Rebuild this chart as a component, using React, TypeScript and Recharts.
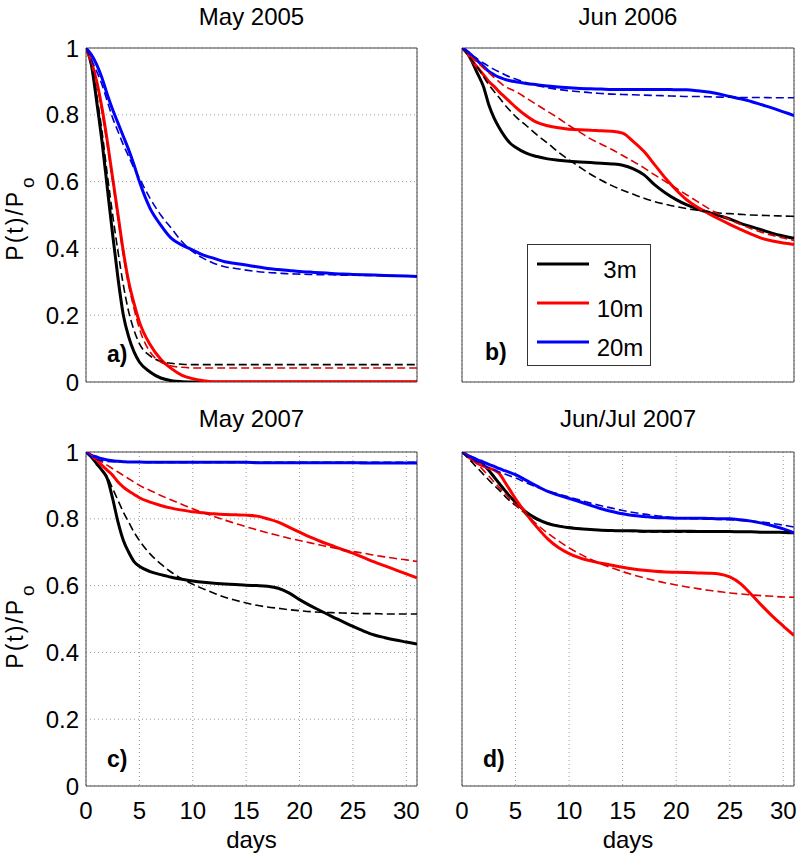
import React from 'react'
import { LineChart, Line, XAxis, YAxis, CartesianGrid, ReferenceArea, Legend } from 'recharts'

const FONT = '"Liberation Sans", Arial, Helvetica, sans-serif'

// sampling days (half-day steps for the fast early decay)
const days = [0, 0.5, 1, 1.5, 2, 2.5, 3, 3.5, 4, 4.5, 5, 6, 7, 8, 9, 10, 11, 12, 13, 14, 15, 16, 17, 18, 19, 20, 21, 22, 23, 24, 25, 26, 27, 28, 29, 30, 31]

const depths = ['3m', '10m', '20m']
const obsColors = ['#000000', '#ff0000', '#0000ff']
const fitColors = ['#000000', '#dd0000', '#0000cc']
const xTicks = [0, 5, 10, 15, 20, 25, 30]
const yTicks = [0, 0.2, 0.4, 0.6, 0.8, 1]

// a) May 2005
const may05_3m = [1, 0.95, 0.84, 0.72, 0.58, 0.44, 0.31, 0.2, 0.135, 0.09, 0.06, 0.03, 0.012, 0.004, 0.001, 0, 0, 0, 0, 0, 0, 0, 0, 0, 0, 0, 0, 0, 0, 0, 0, 0, 0, 0, 0, 0, 0]
const may05_10m = [1, 0.96, 0.9, 0.82, 0.72, 0.61, 0.5, 0.39, 0.3, 0.235, 0.18, 0.112, 0.068, 0.04, 0.02, 0.01, 0.004, 0, 0, 0, 0, 0, 0, 0, 0, 0, 0, 0, 0, 0, 0, 0, 0, 0, 0, 0, 0]
const may05_20m = [1, 0.98, 0.95, 0.91, 0.86, 0.815, 0.775, 0.735, 0.695, 0.65, 0.6, 0.52, 0.47, 0.43, 0.41, 0.395, 0.38, 0.37, 0.36, 0.355, 0.35, 0.345, 0.34, 0.337, 0.334, 0.331, 0.329, 0.327, 0.325, 0.323, 0.322, 0.321, 0.32, 0.319, 0.318, 0.317, 0.316]
const may05_3mFit = [1, 0.955, 0.86, 0.75, 0.62, 0.5, 0.39, 0.29, 0.21, 0.155, 0.115, 0.078, 0.062, 0.056, 0.053, 0.052, 0.052, 0.052, 0.052, 0.052, 0.052, 0.052, 0.052, 0.052, 0.052, 0.052, 0.052, 0.052, 0.052, 0.052, 0.052, 0.052, 0.052, 0.052, 0.052, 0.052, 0.052]
const may05_10mFit = [1, 0.96, 0.9, 0.81, 0.71, 0.6, 0.49, 0.38, 0.29, 0.22, 0.16, 0.09, 0.06, 0.048, 0.044, 0.042, 0.042, 0.042, 0.042, 0.042, 0.042, 0.042, 0.042, 0.042, 0.042, 0.042, 0.042, 0.042, 0.042, 0.042, 0.042, 0.042, 0.042, 0.042, 0.042, 0.042, 0.042]
const may05_20mFit = [1, 0.965, 0.93, 0.89, 0.84, 0.79, 0.75, 0.71, 0.675, 0.64, 0.61, 0.55, 0.5, 0.46, 0.42, 0.39, 0.37, 0.355, 0.345, 0.34, 0.335, 0.331, 0.328, 0.326, 0.324, 0.323, 0.322, 0.321, 0.321, 0.32, 0.32, 0.319, 0.319, 0.318, 0.318, 0.317, 0.317]

// b) Jun 2006
const jun06_3m = [1, 0.985, 0.955, 0.92, 0.885, 0.83, 0.79, 0.76, 0.735, 0.715, 0.703, 0.685, 0.675, 0.668, 0.664, 0.661, 0.659, 0.657, 0.655, 0.653, 0.649, 0.638, 0.62, 0.59, 0.566, 0.546, 0.53, 0.518, 0.508, 0.498, 0.488, 0.475, 0.465, 0.455, 0.445, 0.437, 0.43]
const jun06_10m = [1, 0.985, 0.96, 0.94, 0.92, 0.9, 0.885, 0.868, 0.853, 0.838, 0.823, 0.797, 0.777, 0.767, 0.761, 0.757, 0.755, 0.754, 0.752, 0.751, 0.745, 0.72, 0.69, 0.65, 0.61, 0.575, 0.545, 0.523, 0.505, 0.488, 0.472, 0.457, 0.443, 0.43, 0.422, 0.416, 0.412]
const jun06_20m = [1, 0.99, 0.975, 0.96, 0.945, 0.93, 0.92, 0.912, 0.906, 0.902, 0.899, 0.894, 0.89, 0.886, 0.883, 0.881, 0.879, 0.878, 0.877, 0.876, 0.876, 0.876, 0.876, 0.876, 0.876, 0.875, 0.875, 0.872, 0.868, 0.862, 0.855, 0.848, 0.84, 0.83, 0.82, 0.809, 0.798]
const jun06_3mFit = [1, 0.98, 0.96, 0.94, 0.915, 0.89, 0.87, 0.85, 0.83, 0.812, 0.795, 0.768, 0.74, 0.715, 0.688, 0.665, 0.643, 0.622, 0.604, 0.588, 0.574, 0.562, 0.55, 0.54, 0.532, 0.525, 0.519, 0.514, 0.51, 0.506, 0.504, 0.502, 0.5, 0.499, 0.498, 0.497, 0.496]
const jun06_10mFit = [1, 0.985, 0.97, 0.955, 0.94, 0.926, 0.912, 0.898, 0.885, 0.877, 0.87, 0.85, 0.83, 0.81, 0.79, 0.768, 0.748, 0.728, 0.712, 0.696, 0.678, 0.66, 0.641, 0.62, 0.6, 0.58, 0.56, 0.54, 0.52, 0.502, 0.486, 0.472, 0.459, 0.448, 0.439, 0.431, 0.424]
const jun06_20mFit = [1, 0.988, 0.977, 0.966, 0.955, 0.945, 0.936, 0.928, 0.92, 0.913, 0.907, 0.896, 0.888, 0.881, 0.876, 0.872, 0.869, 0.866, 0.864, 0.862, 0.861, 0.86, 0.859, 0.858, 0.857, 0.856, 0.855, 0.855, 0.854, 0.853, 0.853, 0.852, 0.852, 0.852, 0.851, 0.851, 0.851]

// c) May 2007
const may07_3m = [1, 0.985, 0.965, 0.945, 0.92, 0.86, 0.79, 0.735, 0.7, 0.672, 0.658, 0.642, 0.633, 0.625, 0.619, 0.614, 0.61, 0.607, 0.605, 0.603, 0.601, 0.6, 0.598, 0.592, 0.578, 0.558, 0.54, 0.524, 0.508, 0.493, 0.478, 0.464, 0.452, 0.444, 0.437, 0.431, 0.425]
const may07_10m = [1, 0.99, 0.975, 0.96, 0.945, 0.93, 0.91, 0.895, 0.883, 0.873, 0.863, 0.85, 0.84, 0.832, 0.826, 0.821, 0.818, 0.815, 0.813, 0.812, 0.811, 0.808, 0.8, 0.79, 0.775, 0.76, 0.745, 0.732, 0.72, 0.708, 0.697, 0.684, 0.671, 0.659, 0.647, 0.635, 0.623]
const may07_20m = [1, 0.99, 0.985, 0.98, 0.976, 0.974, 0.972, 0.971, 0.97, 0.97, 0.97, 0.969, 0.969, 0.969, 0.969, 0.969, 0.969, 0.969, 0.969, 0.969, 0.969, 0.968, 0.968, 0.968, 0.968, 0.968, 0.968, 0.968, 0.968, 0.968, 0.968, 0.967, 0.967, 0.967, 0.967, 0.967, 0.967]
const may07_3mFit = [1, 0.985, 0.965, 0.945, 0.925, 0.89, 0.855, 0.82, 0.79, 0.76, 0.735, 0.695, 0.665, 0.64, 0.62, 0.604, 0.59, 0.577, 0.565, 0.556, 0.548, 0.541, 0.536, 0.532, 0.528, 0.525, 0.522, 0.52, 0.519, 0.518, 0.517, 0.516, 0.516, 0.515, 0.515, 0.515, 0.515]
const may07_10mFit = [1, 0.99, 0.98, 0.97, 0.96, 0.95, 0.94, 0.93, 0.92, 0.91, 0.9, 0.885, 0.87, 0.856, 0.843, 0.83, 0.818, 0.807, 0.796, 0.786, 0.776, 0.767, 0.758, 0.75, 0.742, 0.735, 0.728, 0.721, 0.714, 0.708, 0.702, 0.697, 0.691, 0.686, 0.681, 0.677, 0.672]
const may07_20mFit = [1, 0.985, 0.978, 0.974, 0.972, 0.971, 0.97, 0.97, 0.97, 0.97, 0.97, 0.969, 0.969, 0.969, 0.969, 0.969, 0.969, 0.969, 0.969, 0.969, 0.969, 0.969, 0.969, 0.969, 0.969, 0.969, 0.969, 0.969, 0.969, 0.969, 0.969, 0.969, 0.969, 0.969, 0.969, 0.969, 0.969]

// d) Jun/Jul 2007
const jul07_3m = [1, 0.99, 0.982, 0.973, 0.962, 0.945, 0.925, 0.905, 0.885, 0.866, 0.85, 0.82, 0.8, 0.786, 0.778, 0.773, 0.77, 0.768, 0.766, 0.765, 0.764, 0.764, 0.763, 0.763, 0.763, 0.763, 0.763, 0.762, 0.762, 0.762, 0.762, 0.761, 0.761, 0.76, 0.76, 0.759, 0.758]
const jul07_10m = [1, 0.988, 0.975, 0.965, 0.958, 0.952, 0.946, 0.935, 0.91, 0.885, 0.86, 0.815, 0.775, 0.74, 0.714, 0.696, 0.683, 0.674, 0.667, 0.661, 0.655, 0.65, 0.646, 0.643, 0.641, 0.64, 0.639, 0.638, 0.637, 0.635, 0.626, 0.606, 0.574, 0.54, 0.508, 0.479, 0.451]
const jul07_20m = [1, 0.99, 0.983, 0.976, 0.97, 0.963, 0.957, 0.95, 0.944, 0.938, 0.932, 0.915, 0.898, 0.882, 0.871, 0.861, 0.851, 0.84, 0.83, 0.822, 0.815, 0.81, 0.807, 0.804, 0.803, 0.802, 0.802, 0.802, 0.801, 0.8, 0.8, 0.797, 0.793, 0.787, 0.779, 0.77, 0.758]
const jul07_3mFit = [1, 0.984, 0.967, 0.95, 0.933, 0.916, 0.9, 0.885, 0.868, 0.853, 0.84, 0.815, 0.797, 0.787, 0.78, 0.775, 0.771, 0.768, 0.766, 0.764, 0.763, 0.762, 0.761, 0.761, 0.76, 0.76, 0.76, 0.76, 0.76, 0.76, 0.76, 0.76, 0.76, 0.76, 0.76, 0.76, 0.76]
const jul07_10mFit = [1, 0.99, 0.978, 0.962, 0.945, 0.928, 0.91, 0.893, 0.876, 0.859, 0.843, 0.812, 0.783, 0.757, 0.734, 0.713, 0.695, 0.679, 0.665, 0.653, 0.642, 0.632, 0.623, 0.615, 0.608, 0.602, 0.596, 0.591, 0.586, 0.582, 0.578, 0.575, 0.572, 0.57, 0.568, 0.566, 0.565]
const jul07_20mFit = [1, 0.988, 0.978, 0.969, 0.96, 0.953, 0.946, 0.94, 0.934, 0.928, 0.922, 0.908, 0.895, 0.884, 0.874, 0.865, 0.856, 0.847, 0.839, 0.832, 0.825, 0.819, 0.814, 0.81, 0.806, 0.803, 0.801, 0.8, 0.799, 0.798, 0.797, 0.795, 0.793, 0.79, 0.786, 0.781, 0.775]

function toRows(obs: number[][], fit: number[][]) {
  return days.map((day, i) => ({
    day,
    o0: obs[0][i], o1: obs[1][i], o2: obs[2][i],
    f0: fit[0][i], f1: fit[1][i], f2: fit[2][i],
  }))
}

const tickStyle = { fontSize: 24, fill: '#000', fontFamily: FONT }

function LegendBox(props: any) {
  const items = (props.payload ?? [])
    .filter((p: any) => p.type !== 'none' && depths.includes(p.value))
    .sort((a: any, b: any) => depths.indexOf(a.value) - depths.indexOf(b.value))
  return (
    <svg width={124} height={122} style={{ display: 'block' }}>
      <rect x={0.5} y={0.5} width={123} height={121} fill="#fff" stroke="#333" />
      {items.map((p: any, i: number) => (
        <g key={p.value}>
          <line x1={10} x2={62} y1={20 + 39 * i} y2={20 + 39 * i} stroke={p.color} strokeWidth={3} />
          <text x={93} y={34 + 39 * i} textAnchor="middle" fontSize={24} fontFamily={FONT} fill="#000">
            {p.value}
          </text>
        </g>
      ))}
    </svg>
  )
}

interface PanelProps {
  left: number
  top: number
  width: number
  height: number
  margin: { top: number; right: number; bottom: number; left: number }
  data: ReturnType<typeof toRows>
  yLabels?: boolean
  xLabels?: boolean
  legend?: boolean
}

function Panel({ left, top, width, height, margin, data, yLabels, xLabels, legend }: PanelProps) {
  return (
    <div style={{ position: 'absolute', left, top }}>
      <LineChart width={width} height={height} data={data} margin={margin}>
        <CartesianGrid stroke="#999" strokeDasharray="1 3" />
        <XAxis
          dataKey="day"
          type="number"
          domain={[0, 31]}
          ticks={xTicks}
          interval={0}
          allowDataOverflow
          height={30}
          axisLine={false}
          tickLine={false}
          tickSize={6}
          tickMargin={10}
          tick={xLabels ? tickStyle : false}
        />
        <YAxis
          type="number"
          domain={[0, 1]}
          ticks={yTicks}
          interval={0}
          allowDataOverflow
          width={40}
          axisLine={false}
          tickLine={false}
          tickSize={6}
          tickMargin={1}
          tick={yLabels ? tickStyle : false}
        />
        <ReferenceArea x1={0} x2={31} y1={0} y2={1} fill="none" stroke="#444" strokeWidth={1} />
        {legend && (
          <Legend
            layout="vertical"
            align="center"
            verticalAlign="middle"
            wrapperStyle={{ left: 127, top: 244, width: 124, height: 122 }}
            content={LegendBox}
          />
        )}
        {[0, 1, 2].map((i) => (
          <Line
            key={'o' + i}
            dataKey={'o' + i}
            name={depths[i]}
            type="monotone"
            stroke={obsColors[i]}
            strokeWidth={3}
            dot={false}
            activeDot={false}
            isAnimationActive={false}
          />
        ))}
        {[0, 1, 2].map((i) => (
          <Line
            key={'f' + i}
            dataKey={'f' + i}
            name={depths[i] + ' fit'}
            legendType="none"
            type="monotone"
            stroke={fitColors[i]}
            strokeWidth={1.6}
            strokeDasharray="8 4"
            dot={false}
            activeDot={false}
            isAnimationActive={false}
          />
        ))}
      </LineChart>
    </div>
  )
}

function Caption({ x, baseline, size = 24, children }: any) {
  // x is the centre of the text; baseline is the page y of the text baseline
  return (
    <div
      style={{
        position: 'absolute',
        left: x - 120,
        width: 240,
        top: baseline - (size / 2 + 0.3465 * size),
        fontSize: size,
        lineHeight: size + 'px',
        textAlign: 'center',
        whiteSpace: 'nowrap',
      }}
    >
      {children}
    </div>
  )
}

function Tag({ x, baseline, children }: any) {
  const size = 23
  return (
    <div
      style={{
        position: 'absolute',
        left: x,
        top: baseline - (size / 2 + 0.3465 * size),
        fontSize: size,
        lineHeight: size + 'px',
        fontWeight: 'bold',
      }}
    >
      {children}
    </div>
  )
}

// rotated y-axis title with subscript, baseline at page x = 23
function YTitle({ cy }: { cy: number }) {
  return (
    <svg width={44} height={140} style={{ position: 'absolute', left: 0, top: cy - 70 }}>
      <text
        transform="translate(23, 70) rotate(-90)"
        textAnchor="middle"
        fontSize={23}
        fontFamily={FONT}
        letterSpacing={2}
        fill="#000"
      >
        P(t)/P
        <tspan fontSize={19} dx={2} dy={11} letterSpacing={0}>o</tspan>
      </text>
    </svg>
  )
}

const topMargin = (l: number, r: number) => ({ top: 48, right: r, bottom: 8, left: l })
const botMargin = (l: number, r: number) => ({ top: 48, right: r, bottom: 43, left: l })

export default function App() {
  return (
    <div
      style={{
        position: 'absolute',
        left: 0,
        top: 0,
        width: 800,
        height: 859,
        background: '#fff',
        fontFamily: FONT,
        color: '#000',
        overflow: 'hidden',
      }}
    >
      <Panel left={0} top={0} width={420} height={420} margin={topMargin(46, 3)} data={toRows([may05_3m, may05_10m, may05_20m], [may05_3mFit, may05_10mFit, may05_20mFit])} yLabels />
      <Panel left={400} top={0} width={400} height={420} margin={topMargin(22, 6)} data={toRows([jun06_3m, jun06_10m, jun06_20m], [jun06_3mFit, jun06_10mFit, jun06_20mFit])} legend />
      <Panel left={0} top={404} width={420} height={455} margin={botMargin(46, 3)} data={toRows([may07_3m, may07_10m, may07_20m], [may07_3mFit, may07_10mFit, may07_20mFit])} yLabels xLabels />
      <Panel left={400} top={404} width={400} height={455} margin={botMargin(22, 6)} data={toRows([jul07_3m, jul07_10m, jul07_20m], [jul07_3mFit, jul07_10mFit, jul07_20mFit])} xLabels />

      <Caption x={251.5} baseline={25}>May 2005</Caption>
      <Caption x={628} baseline={25}>Jun 2006</Caption>
      <Caption x={251.5} baseline={427}>May 2007</Caption>
      <Caption x={628} baseline={427}>Jun/Jul 2007</Caption>

      <Tag x={107} baseline={362}>a)</Tag>
      <Tag x={485} baseline={360}>b)</Tag>
      <Tag x={107} baseline={767}>c)</Tag>
      <Tag x={483} baseline={767}>d)</Tag>

      <YTitle cy={219} />
      <YTitle cy={627} />

      <Caption x={251.5} baseline={848}>days</Caption>
      <Caption x={628} baseline={848}>days</Caption>
    </div>
  )
}
